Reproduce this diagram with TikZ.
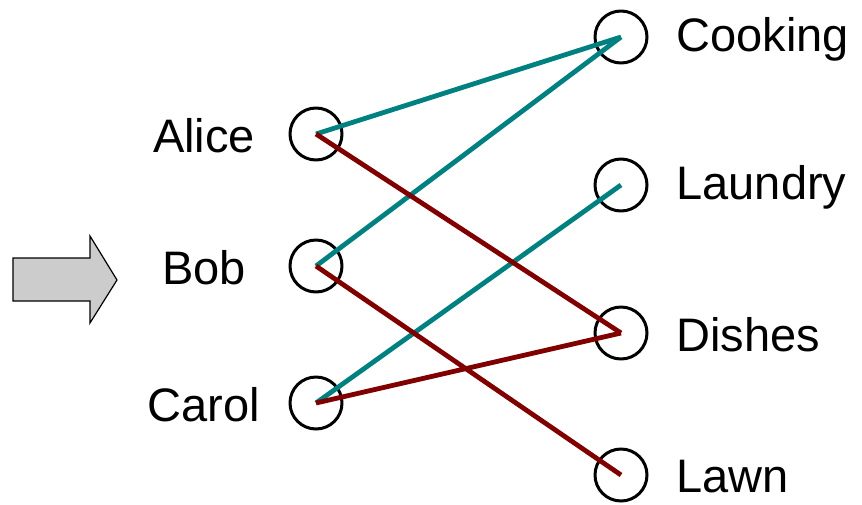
\documentclass[tikz,border=0pt]{standalone}
\usepackage{fontspec}
\setmainfont{Liberation Sans}
\definecolor{matchteal}{RGB}{0,128,128}
\definecolor{matchred}{RGB}{128,0,0}
\begin{document}
\begin{tikzpicture}[x=1pt, y=-1pt, font=\fontsize{47}{50}\selectfont, line join=round]
			\useasboundingbox (0,0) rectangle (862,504);
			\tikzset{vertex/.style={draw, circle, line width=3pt, minimum size=52pt, inner sep=0pt},
				edge/.style={line width=4.8pt}}
			% block arrow
			\draw[fill=black!20, line width=1.2pt, line join=miter]
			(13,258) -- (90,258) -- (90,236) -- (117,280) -- (90,323) -- (90,301) -- (13,301) -- cycle;
			% people on the left, jobs on the right
			\foreach \x/\y in {Alice/134, Bob/266, Carol/403}{
			\node[vertex] (\x) at (316,\y) {};
			\node (\x-lbl) at (204,\y+2) {\x};
			}
			\foreach \x/\y in {Cooking/37, Laundry/185, Dishes/333, Lawn/475}{
			\node[vertex] (\x) at (621,\y) {};
			\node[anchor=west] (\x-lbl) at (673,\y+2) {\x};
			}
			\draw[edge, matchteal]
			(Alice.center) -- (Cooking.center)
			(Bob.center) -- (Cooking.center)
			(Carol.center) -- (Laundry.center)
			;
			\draw[edge, matchred]
			(Alice.center) -- (Dishes.center)
			(Bob.center) -- (Lawn.center)
			(Carol.center) -- (Dishes.center)
			;
		\end{tikzpicture}
\end{document}
